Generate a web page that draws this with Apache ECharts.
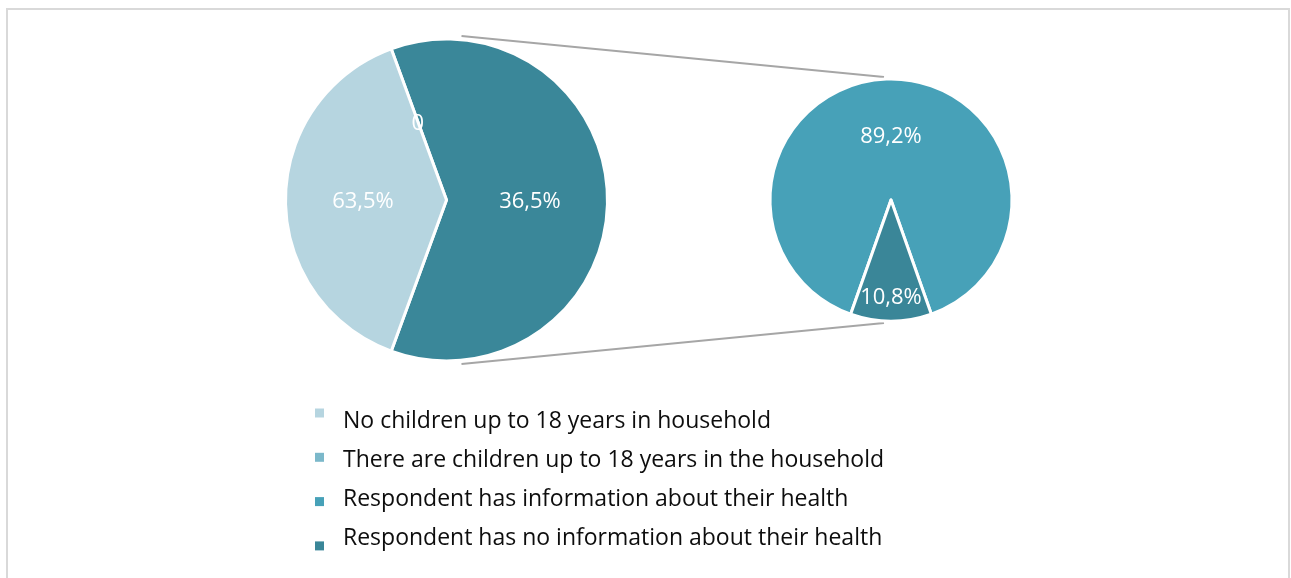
<!DOCTYPE html>
<html>
<head>
<meta charset="utf-8">
<title>Households with children and health information</title>
<script src="https://cdn.jsdelivr.net/npm/echarts@6/dist/echarts.min.js"></script>
<style>
  html, body { margin: 0; padding: 0; background: #ffffff; }
  #chart { width: 1291px; height: 578px; }
</style>
</head>
<body>
<div id="chart"></div>
<script>
// Share of respondents by household type (%)
const householdNames = [
  'No children up to 18 years in household',
  'There are children up to 18 years in the household'
];
const householdShares = [63.5, 36.5];

// Households with children, split by health information (%)
const detailNames = [
  'Respondent has information about their health',
  'Respondent has no information about their health'
];
const detailShares = [89.2, 10.8];

// Legend entries in display order
const legendNames = householdNames.concat(detailNames);
const legendColors = ['#B6D5E0', '#7BB8CA', '#47A1B8', '#3A8698'];

const FONT = '"Open Sans", "Noto Sans", sans-serif';
const fmt = v => String(v).replace('.', ',');

// Layout
const mainCenter = [446.5, 200], mainRadius = 161;
const detailCenter = [891, 200], detailRadius = 121;

// The split-off slice of the main pie stands for the whole detail pie
const detailTotal = detailShares.reduce((a, b) => a + b, 0);
const mainTotal = householdShares[0] + detailTotal;
// keep the split-off slice centred on the right-hand side
const mainStart = (detailTotal / mainTotal) * 360 / 2;
// keep the small detail slice centred at the bottom
const detailStart = 270 - (detailShares[1] / detailTotal) * 360 / 2;

const labelStyle = {
  show: true, position: 'inside', color: '#ffffff',
  fontFamily: FONT, fontSize: 22
};

const mainData = [
  { name: householdNames[1], value: 0,
    itemStyle: { color: legendColors[1] }, label: { formatter: () => '0' } },
  { name: 'split', value: detailTotal,
    itemStyle: { color: '#3A8799' }, label: { formatter: () => fmt(householdShares[1]) + '%' } },
  { name: householdNames[0], value: householdShares[0],
    itemStyle: { color: legendColors[0] }, label: { formatter: () => fmt(householdShares[0]) + '%' } }
];

const detailData = detailNames.map((n, i) => ({
  name: n, value: detailShares[i],
  itemStyle: { color: legendColors[2 + i] },
  label: { formatter: () => fmt(detailShares[i]) + '%' }
}));

// Connector lines between the two pies
const connectors = [
  [mainCenter[0] + 15, mainCenter[1] - mainRadius - 3, detailCenter[0] - 7, detailCenter[1] - detailRadius - 2],
  [mainCenter[0] + 15, mainCenter[1] + mainRadius + 3, detailCenter[0] - 7, detailCenter[1] + detailRadius + 2]
].map(p => ({
  type: 'line', z: 0, silent: true,
  shape: { x1: p[0], y1: p[1], x2: p[2], y2: p[3] },
  style: { stroke: '#A6A6A6', lineWidth: 2 }
}));

// Legend drawn as a block of markers and texts
const legendTextX = 343, legendTextY = 421, legendTextGap = 39;
const legendMarkX = 315, legendMarkY = 413, legendMarkGap = 44.3, markSize = 9;
const legendItems = [];
legendNames.forEach((n, i) => {
  legendItems.push({
    type: 'rect', silent: true,
    shape: { x: legendMarkX, y: legendMarkY + i * legendMarkGap - markSize / 2, width: markSize, height: markSize },
    style: { fill: legendColors[i] }
  });
  legendItems.push({
    type: 'text', silent: true,
    x: legendTextX, y: legendTextY + i * legendTextGap,
    style: { text: n, fill: '#0d0d0d', font: '23px ' + FONT, textVerticalAlign: 'middle' }
  });
});

const chart = echarts.init(document.getElementById('chart'), null, { renderer: 'canvas' });
chart.setOption({
  animation: false,
  backgroundColor: '#ffffff',
  graphic: [
    { type: 'rect', silent: true, z: -1,
      shape: { x: 7, y: 9, width: 1282, height: 620 },
      style: { fill: 'none', stroke: '#D9D9D9', lineWidth: 2 } }
  ].concat(connectors, legendItems),
  series: [
    {
      type: 'pie', center: mainCenter, radius: mainRadius,
      startAngle: mainStart, clockwise: true,
      avoidLabelOverlap: false, silent: true,
      itemStyle: { borderColor: '#ffffff', borderWidth: 3 },
      label: labelStyle, labelLine: { show: false },
      labelLayout: () => ({ dy: 2 }),
      data: mainData
    },
    {
      type: 'pie', center: detailCenter, radius: detailRadius,
      startAngle: detailStart, clockwise: true,
      avoidLabelOverlap: false, silent: true,
      itemStyle: { borderColor: '#ffffff', borderWidth: 3 },
      label: labelStyle, labelLine: { show: false },
      labelLayout: p => (p.dataIndex === 1 ? { dy: detailRadius * 0.28 } : {}),
      data: detailData
    }
  ]
});
</script>
</body>
</html>
